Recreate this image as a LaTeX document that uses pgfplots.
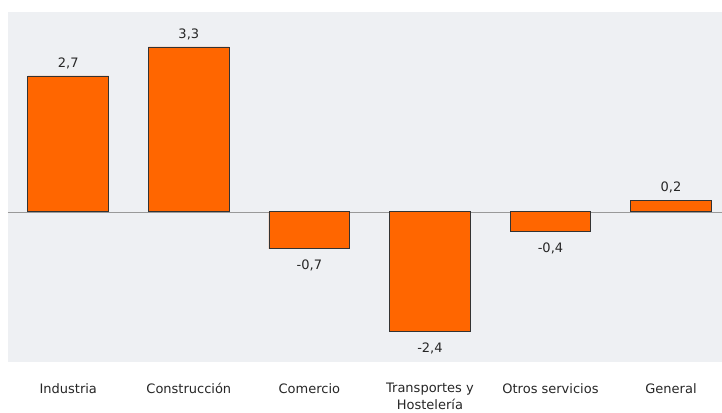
\documentclass[border=0pt]{standalone}
\usepackage{fontspec}
\setmainfont{DejaVu Sans}
\usepackage{pgfplots}
\pgfplotsset{compat=1.18}
\definecolor{bararange}{HTML}{FF6600}
\definecolor{plotbg}{HTML}{EEF0F3}
\begin{document}
\begin{tikzpicture}[x=1pt,y=1pt]
\begin{axis}[
    ybar,
    scale only axis,
    width=714pt,
    height=350pt,
    xmin=-0.5, xmax=5.42,
    ymin=-3, ymax=4,
    bar width=0.67,
    axis background/.style={fill=plotbg},
    axis line style={draw=none},
    xtick={0,1,2,3,4,5},
    xticklabels={Industria,Construcción,Comercio,{Transportes y\\Hostelería},Otros servicios,General},
    xticklabel style={font=\fontsize{13}{16.5}\selectfont, align=center, yshift=-18pt, text=black!85},
    ytick=\empty,
    extra y ticks={0},
    extra y tick labels={},
    extra y tick style={grid=major, major grid style={gray!80, line width=0.7pt}},
    major tick length=0pt,
    nodes near coords,
    visualization depends on={y \as \rawy},
    nodes near coords style={font=\fontsize{13}{16}\selectfont, text=black!85, inner sep=6pt,
        yshift={ifthenelse(\rawy<0,-5,1)},
        /pgf/number format/.cd, assume math mode=true, fixed, fixed zerofill, precision=1, use comma},
    clip=false,
]
\addplot[fill=bararange, draw=black!80, line width=0.8pt]
    coordinates {(0,2.72) (1,3.3) (2,-0.74) (3,-2.4) (4,-0.4) (5,0.23)};
\end{axis}
\path[use as bounding box] (current axis.south west) ++(-8pt,-51pt) rectangle ([yshift=12pt]current axis.north east);
\end{tikzpicture}
\end{document}
